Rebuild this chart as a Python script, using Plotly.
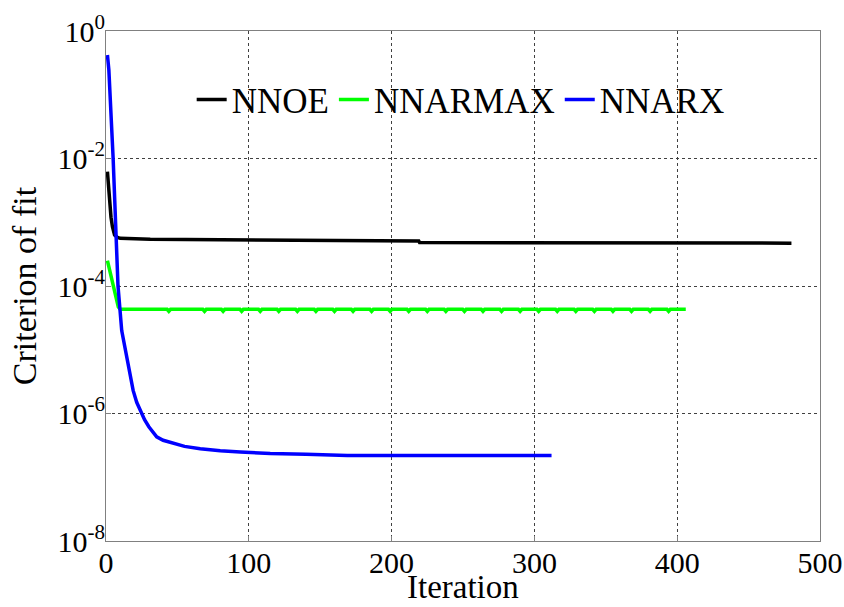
import plotly.graph_objects as go

# ---- data ----
nnoe_iter = [1, 2, 2.8, 3.5, 4.5, 6, 8, 10, 31, 98, 219, 219.6, 288, 288.6, 480]
nnoe_val = [6.2e-3, 2.9e-3, 1.74e-3, 1.2e-3, 8.5e-4, 6.3e-4, 5.8e-4, 5.6e-4,
            5.4e-4, 5.25e-4, 5.1e-4, 4.8e-4, 4.8e-4, 4.7e-4, 4.7e-4]

nnarmax_iter = [1, 5, 8.6, 10, 406]
nnarmax_val = [2.5e-4, 1.1e-4, 4.7e-5, 4.3e-5, 4.3e-5]
# small notches seen on the flat NNARMAX line
nnarmax_dip_iter = [44, 69, 82, 95, 108, 121, 134, 147, 160, 173, 186, 199,
                    212, 225, 238, 251, 264, 277, 290, 303, 316, 329, 342,
                    355, 368, 381, 394]
nnarmax_dip_val = 4.0e-5

nnarx_iter = [1, 2, 5, 8.4, 11, 14.5, 17, 19, 21.5, 24, 27, 30, 33, 35.5,
              40, 47, 55, 66, 80, 94, 115, 140, 169, 200, 250, 312]
nnarx_val = [0.42, 0.245, 1.0e-2, 1.0e-4, 2.0e-5, 7.8e-6, 3.8e-6, 2.3e-6,
             1.5e-6, 1.12e-6, 8.0e-7, 6.2e-7, 5.0e-7, 4.3e-7, 3.8e-7,
             3.4e-7, 3.05e-7, 2.8e-7, 2.6e-7, 2.5e-7, 2.35e-7, 2.3e-7,
             2.2e-7, 2.2e-7, 2.2e-7, 2.2e-7]

series_names = ["NNOE", "NNARMAX", "NNARX"]
series_colors = ["#000000", "#00ff00", "#0000ff"]

x_ticks = [0, 100, 200, 300, 400, 500]
y_ticks = [1e-8, 1e-6, 1e-4, 1e-2, 1e0]
y_tick_text = ["10<sup>-8</sup>", "10<sup>-6</sup>", "10<sup>-4</sup>",
               "10<sup>-2</sup>", "10<sup>0</sup>"]

FONT = "Liberation Serif, Times New Roman, serif"

# build the NNARMAX line including its notches
flat_level = nnarmax_val[-1]
g_x = list(nnarmax_iter[:-1])
g_y = list(nnarmax_val[:-1])
for d in nnarmax_dip_iter:
    g_x += [d - 1.2, d, d + 1.2]
    g_y += [flat_level, nnarmax_dip_val, flat_level]
g_x.append(nnarmax_iter[-1])
g_y.append(nnarmax_val[-1])

fig = go.Figure()
for name, xs, ys, col in zip(series_names,
                             [nnoe_iter, g_x, nnarx_iter],
                             [nnoe_val, g_y, nnarx_val],
                             series_colors):
    fig.add_trace(go.Scatter(x=xs, y=ys, mode="lines", name=name,
                             line=dict(color=col, width=3.5)))

PLOT_TOP, PLOT_BOTTOM = 31, 541
fig.update_layout(
    width=844, height=607,
    margin=dict(l=106, r=24, t=PLOT_TOP, b=607 - PLOT_BOTTOM),
    paper_bgcolor="white", plot_bgcolor="white",
    font=dict(family=FONT, color="black", size=30),
    showlegend=True,
    legend=dict(orientation="h", x=0.12, y=0.865, xanchor="left",
                yanchor="middle", bgcolor="rgba(0,0,0,0)",
                font=dict(family=FONT, size=35, color="black"),
                itemwidth=30, tracegroupgap=0),
    annotations=[dict(text="Iteration", xref="paper", yref="paper",
                      x=0.5, y=-(606 - PLOT_BOTTOM) / (PLOT_BOTTOM - PLOT_TOP),
                      xanchor="center", yanchor="bottom", showarrow=False,
                      borderpad=0,
                      font=dict(family=FONT, size=33, color="black"))],
)

fig.update_xaxes(
    range=[0, 500], tickvals=x_ticks, ticktext=[str(v) for v in x_ticks],
    showgrid=True, gridcolor="#404040", griddash="dot", gridwidth=1,
    showline=True, linecolor="#808080", linewidth=1, mirror=True,
    ticks="inside", ticklen=5, tickcolor="#808080",
    tickfont=dict(family=FONT, size=30, color="black"),
    ticklabelstandoff=-5,
    automargin=False, zeroline=False,
)
fig.update_yaxes(
    type="log", range=[-8, 0], tickvals=y_ticks, ticktext=y_tick_text,
    showgrid=True, gridcolor="#404040", griddash="dot", gridwidth=1,
    showline=True, linecolor="#808080", linewidth=1, mirror=True,
    ticks="inside", ticklen=5, tickcolor="#808080",
    tickfont=dict(family=FONT, size=30, color="black"),
    ticklabelstandoff=-6,
    title=dict(text="Criterion of fit",
               font=dict(family=FONT, size=34, color="black"), standoff=10),
    automargin=False, zeroline=False,
)

fig.write_html("out.html")
